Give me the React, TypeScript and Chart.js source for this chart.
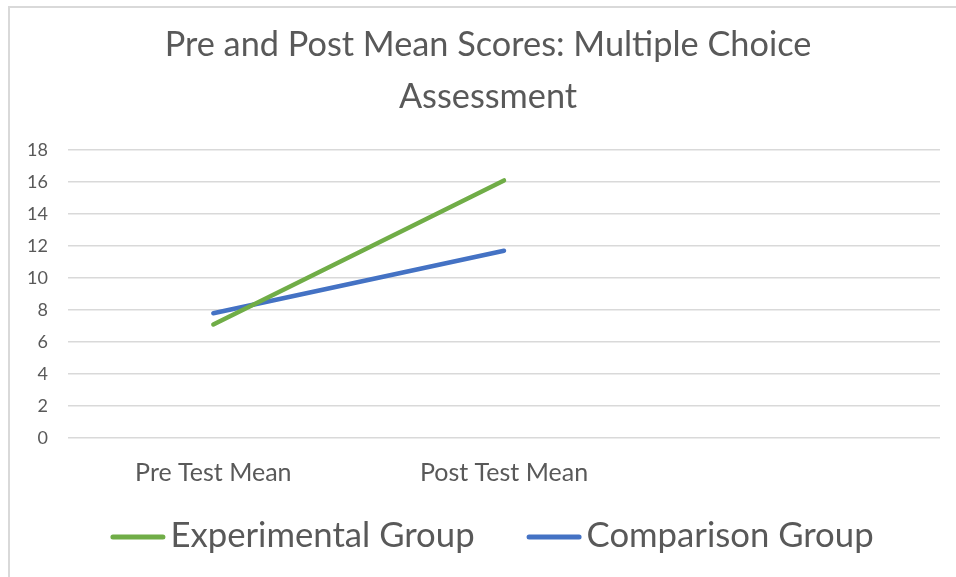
import React, { useEffect, useRef } from 'react';
import { Chart, registerables } from 'chart.js';

Chart.register(...registerables);

// ---- data ----
const titleLines = ['Pre and Post Mean Scores: Multiple Choice', 'Assessment'];
const categories = ['Pre Test Mean', 'Post Test Mean', ''];
const experimentalLabel = 'Experimental Group';
const comparisonLabel = 'Comparison Group';
const experimental: (number | null)[] = [7.1, 16.1, null];
const comparison: (number | null)[] = [7.8, 11.7, null];
const yMin = 0;
const yMax = 18;
const yStep = 2;

// ---- styles ----
const FONT = 'Lato, "Open Sans", sans-serif';
const TEXT = '#595959';
const GREEN = '#70AD47';
const BLUE = '#4472C4';
const GRID = '#D9D9D9';

// centre the title over the whole chart frame rather than the padded layout box
const titleShift = {
  id: 'titleShift',
  afterLayout(chart: any) {
    const t = chart.titleBlock;
    if (t) {
      t.left += 12;
    }
  },
};

const bottomLegend = {
  id: 'bottomLegend',
  afterDraw(chart: any) {
    const ctx = chart.ctx as CanvasRenderingContext2D;
    const datasets = chart.data.datasets;
    const fontSize = 34.7;
    const lineLen = 55;
    const gapText = 5;
    const gapItem = 52;
    ctx.save();
    ctx.font = `${fontSize}px ${FONT}`;
    const widths = datasets.map((d: any) => lineLen + gapText + ctx.measureText(d.label).width);
    const total = widths.reduce((a: number, b: number) => a + b, 0) + gapItem * (datasets.length - 1);
    let x = 492 - total / 2;
    const lineY = 537;
    const textY = 547;
    datasets.forEach((d: any, i: number) => {
      ctx.strokeStyle = d.borderColor;
      ctx.lineWidth = 5;
      ctx.lineCap = 'round';
      ctx.beginPath();
      ctx.moveTo(x + 2.5, lineY);
      ctx.lineTo(x + lineLen - 2.5, lineY);
      ctx.stroke();
      ctx.fillStyle = TEXT;
      ctx.textAlign = 'left';
      ctx.textBaseline = 'alphabetic';
      ctx.fillText(d.label, x + lineLen + gapText, textY);
      x += widths[i] + gapItem;
    });
    ctx.restore();
  },
};

export default function App() {
  const ref = useRef<HTMLCanvasElement | null>(null);

  useEffect(() => {
    let chart: Chart | null = null;
    let cancelled = false;
    const make = () => {
      if (cancelled || !ref.current) return;
      chart = new Chart(ref.current, {
        type: 'line',
        data: {
          labels: categories,
          datasets: [
            {
              label: experimentalLabel,
              data: experimental,
              borderColor: GREEN,
              backgroundColor: GREEN,
              borderWidth: 4.5,
              borderCapStyle: 'round',
              pointRadius: 0,
              pointHoverRadius: 0,
              tension: 0,
            },
            {
              label: comparisonLabel,
              data: comparison,
              borderColor: BLUE,
              backgroundColor: BLUE,
              borderWidth: 4.5,
              borderCapStyle: 'round',
              pointRadius: 0,
              pointHoverRadius: 0,
              tension: 0,
            },
          ],
        },
        options: {
          responsive: false,
          animation: false,
          devicePixelRatio: 1,
          layout: { padding: { left: 24, right: 36, top: 0, bottom: 60 } },
          plugins: {
            legend: { display: false },
            tooltip: { enabled: false },
            title: {
              display: true,
              text: titleLines,
              color: TEXT,
              font: { family: FONT, size: 34.3, weight: 'normal', lineHeight: '52px' } as any,
              padding: { top: 19, bottom: 27 },
            },
          },
          scales: {
            x: {
              offset: true,
              grid: { display: false },
              border: { display: false },
              ticks: {
                color: TEXT,
                font: { family: FONT, size: 25 },
                padding: 12,
                maxRotation: 0,
                autoSkip: false,
              },
              afterFit: (s: any) => {
                s.height = 79;
              },
            },
            y: {
              min: yMin,
              max: yMax,
              ticks: {
                stepSize: yStep,
                color: TEXT,
                font: { family: FONT, size: 18 },
                padding: 20,
              },
              grid: { color: GRID, lineWidth: 1.5, drawTicks: false },
              border: { display: false },
              afterFit: (s: any) => {
                s.width = 44;
              },
            },
          },
        },
        plugins: [titleShift, bottomLegend],
      });
    };
    const fonts = (document as any).fonts;
    if (fonts && fonts.load) {
      Promise.all([fonts.load(`31px Lato`), fonts.load(`37px Lato`)]).then(make, make);
    } else {
      make();
    }
    return () => {
      cancelled = true;
      if (chart) chart.destroy();
    };
  }, []);

  return (
    <div style={{ position: 'fixed', inset: 0, overflow: 'hidden', background: '#fff' }}>
      <div
        style={{
          position: 'absolute',
          left: 8,
          top: 6,
          width: 2000,
          height: 2000,
          borderLeft: `2px solid ${GRID}`,
          borderTop: `2px solid ${GRID}`,
        }}
      />
      <canvas ref={ref} width={976} height={577} style={{ position: 'absolute', left: 0, top: 0 }} />
    </div>
  );
}
